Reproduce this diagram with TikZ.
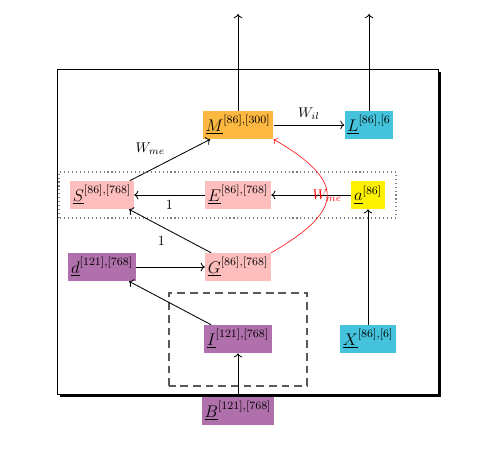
\documentclass[tikz,border=0pt]{standalone}
\usepackage{amsmath,amssymb}
\usetikzlibrary{arrows.meta,positioning,calc}
\definecolor{TensorOrange}{RGB}{252,184,64}
\definecolor{TensorCyan}{RGB}{70,195,220}
\definecolor{TensorPink}{RGB}{255,190,190}
\definecolor{TensorYellow}{RGB}{255,242,0}
\definecolor{TensorPurple}{RGB}{175,112,172}

\begin{document}
\begin{tikzpicture}[>=To,
    tensor/.style={inner sep=2pt,minimum height=0.7cm,font=\large},
    flow/.style={->,semithick}]
  \useasboundingbox (0,0) rectangle (12.475,11.2);
  % frame with shadow
  \fill[black] (1.495,1.28) rectangle (11.02,9.405);
  \draw[fill=white] (1.425,1.35) rectangle (10.95,9.475);
  \draw[gray,dotted,thick] (1.475,5.75) rectangle (9.9,6.9);
  \draw[black!65,thick,dash pattern=on 5.5pt off 3.5pt] (4.225,1.55) rectangle (7.675,3.875);

  \node[tensor,fill=TensorOrange] (M) at (5.95,8.075) {$\underline{M}^{[86],[300]}$};
  \node[tensor,fill=TensorCyan] (L) at (9.225,8.075) {$\underline{L}^{[86],[6}$};
  \node[tensor,fill=TensorPink] (S) at (2.55,6.325) {$\underline{S}^{[86],[768]}$};
  \node[tensor,fill=TensorPink] (E) at (5.95,6.325) {$\underline{E}^{[86],[768]}$};
  \node[tensor,fill=TensorYellow] (a) at (9.2,6.325) {$\underline{a}^{[86]}$};
  \node[tensor,fill=TensorPurple] (d) at (2.55,4.525) {$\underline{d}^{[121],[768]}$};
  \node[tensor,fill=TensorPink] (G) at (5.95,4.525) {$\underline{G}^{[86],[768]}$};
  \node[tensor,fill=TensorPurple] (I) at (5.95,2.725) {$\underline{I}^{[121],[768]}$};
  \node[tensor,fill=TensorCyan] (X) at (9.2,2.725) {$\underline{X}^{[86],[6]}$};
  \node[tensor,fill=TensorPurple] (B) at (5.95,0.925) {$\underline{B}^{[121],[768]}$};
  \coordinate (Mout) at (5.95,10.85);
  \coordinate (Lout) at (9.225,10.85);

  \draw[flow] (M) -- (Mout);
  \draw[flow] (L) -- (Lout);
  \draw[flow] (M) -- (L) node[midway,above] {$W_{il}$};
  \draw[flow] (S) -- (M) node[midway,above left=0pt] {$W_{me}$};
  \draw[flow] (E) -- (S) node[midway,below] {1};
  \draw[flow] (a) -- (E);
  \draw[flow] (G) -- (S) node[midway,below left=0pt] {1};
  \draw[flow] (d) -- (G);
  \draw[flow] (I) -- (d);
  \draw[flow] (B) -- (I);
  \draw[flow] (X) -- (a);
  \draw[->,red] (G.north east) to[out=30,in=-30,looseness=1.9]
    node[midway] {$W_{me}$} (M.south east);
\end{tikzpicture}
\end{document}
